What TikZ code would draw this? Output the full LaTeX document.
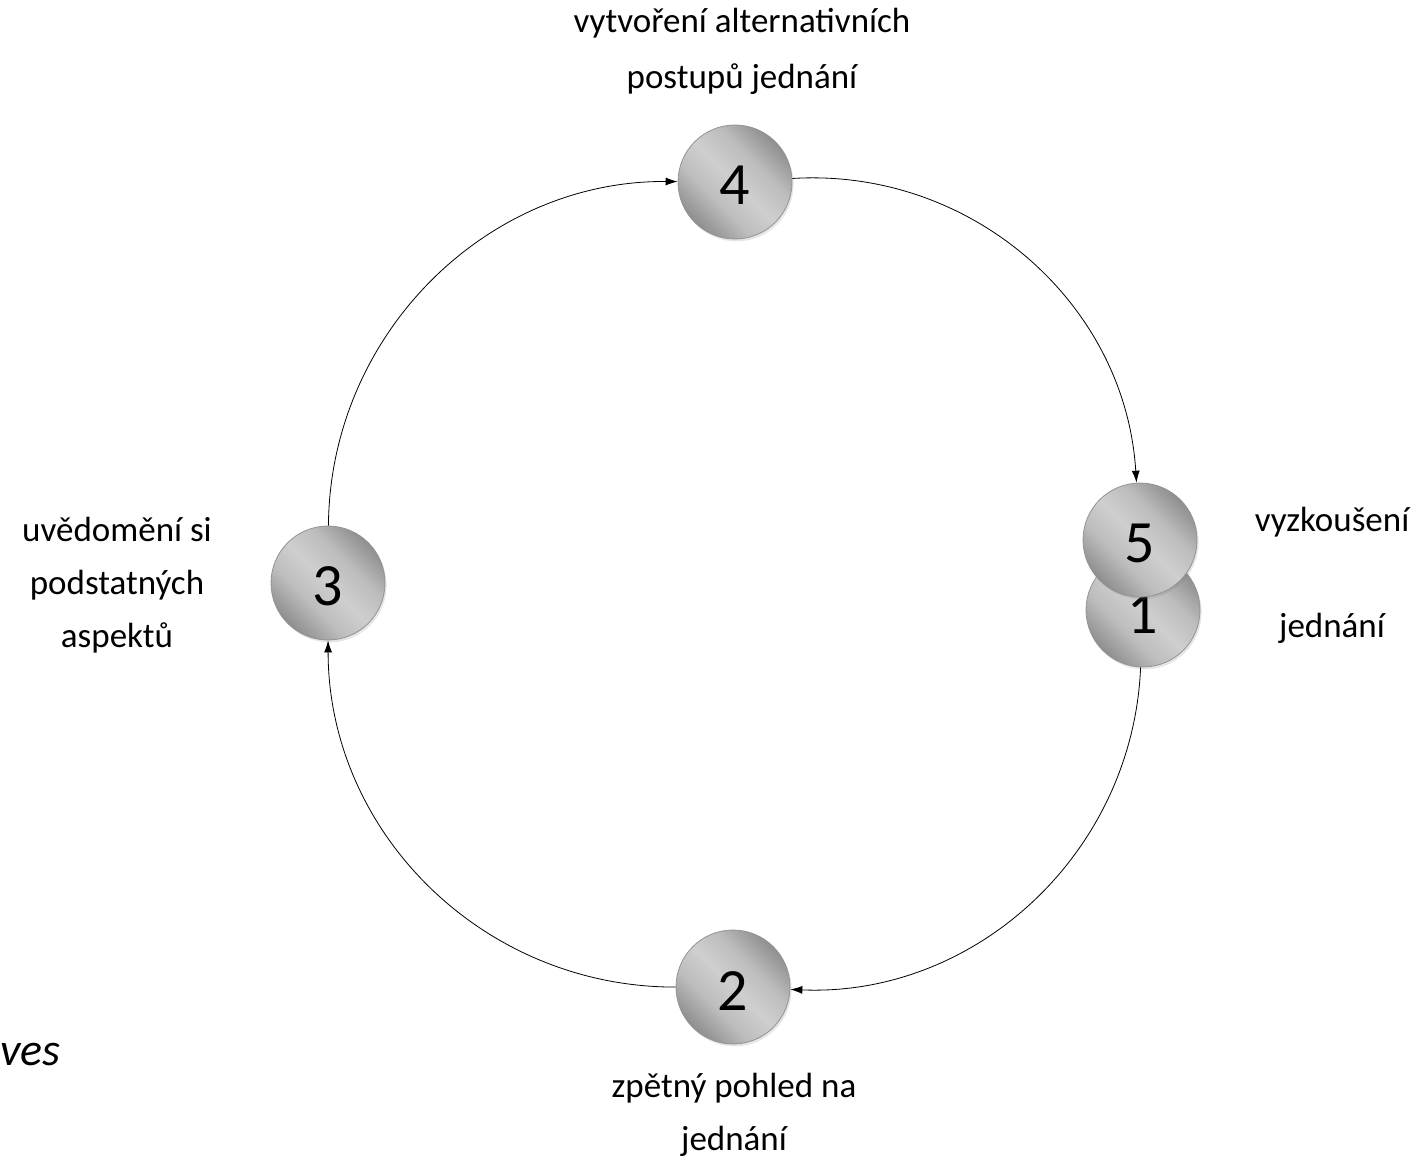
\documentclass[tikz,border=0pt]{standalone}
\usepackage{fontspec}
\setmainfont{Carlito}
\usetikzlibrary{arrows.meta, positioning, shadows}

\pgfdeclareverticalshading{stageshade}{100bp}{color(0bp)=(gray!88); color(25bp)=(gray!88);
    color(38bp)=(gray!52); color(50bp)=(gray!38); color(62bp)=(gray!52);
    color(75bp)=(gray!88); color(100bp)=(gray!88)}

\begin{document}
\begin{tikzpicture}[x=0.5pt, y=-0.5pt,
    stage/.style={circle, minimum size=57pt, inner sep=0pt, draw=gray!85,
        shade, shading=stageshade, shading angle=-45,
        drop shadow={opacity=0.2, shadow xshift=0.8pt, shadow yshift=-1.2pt},
        text height=23pt, font=\fontsize{30}{36}\selectfont},
    caption/.style={align=center, inner sep=0pt, font=\fontsize{17.5}{26.5}\selectfont},
    flow/.style={thin, -{Latex[length=6pt, width=4pt]}}]
\useasboundingbox (0,0) rectangle (1427,1160);

\node[stage] (n4) at (735,182) {4};
\node[stage] (n3) at (328,583) {3};
\node[stage] (n2) at (733,987) {2};
\node[stage] (n1) at (1143,610) {1};
\node[stage] (n5) at (1140,540) {5};

\draw[flow] (n4) to[bend left=45] (n5);
\draw[flow] (n1) to[bend left=45] (n2);
\draw[flow] (n2) to[bend left=45] (n3);
\draw[flow] (n3) to[bend left=45] (n4);

% base anchor sits on the last line
\node[caption, anchor=base, font=\fontsize{17.5}{28}\selectfont] (t4) at (742,89) {vytvoření alternativních\\postupů jednání};
\node[caption, anchor=base] (t3) at (117,647) {uvědomění si\\podstatných\\aspektů};
\node[caption, anchor=base] (t5) at (1332,637) {vyzkoušení\\[26.5pt]jednání};
\node[caption, anchor=base] (t2) at (734,1150) {zpětný pohled na\\jednání};

\node[anchor=base west, inner sep=0pt, font=\itshape\fontsize{23}{28}\selectfont] (frag) at (0,1065) {ves};
\end{tikzpicture}
\end{document}
